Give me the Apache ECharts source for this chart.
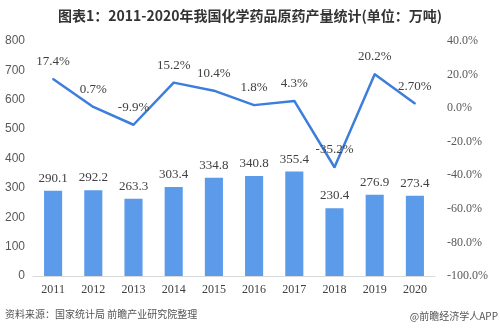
<!DOCTYPE html>
<html><head><meta charset="utf-8">
<script src="https://cdn.jsdelivr.net/npm/echarts@6/dist/echarts.min.js"></script>
<style>html,body{margin:0;padding:0;background:#fff}#c{width:500px;height:331px}</style>
</head><body><div id="c"></div>
<script>
const years = ['2011','2012','2013','2014','2015','2016','2017','2018','2019','2020'];
const output = [290.1, 292.2, 263.3, 303.4, 334.8, 340.8, 355.4, 230.4, 276.9, 273.4];
const growth = [17.4, 0.7, -9.9, 15.2, 10.4, 1.8, 4.3, -35.2, 20.2, 2.7];
const growthLabels = ['17.4%','0.7%','-9.9%','15.2%','10.4%','1.8%','4.3%','-35.2%','20.2%','2.70%'];

const serif = '"Liberation Serif","DejaVu Serif",serif';
const chart = echarts.init(document.getElementById('c'));
chart.setOption({
  animation: false,
  title: {
    text: '图表1：2011-2020年我国化学药品原药产量统计(单位：万吨)',
    left: 'center', top: 4,
    textStyle: {fontSize: 14, fontWeight: 'bold', color: '#333', fontFamily: '"Noto Sans CJK SC",sans-serif'}
  },
  graphic: [
    {type: 'text', left: 5, top: 309, style: {text: '资料来源：国家统计局 前瞻产业研究院整理', fill: '#555', font: '10px "Noto Sans CJK SC",sans-serif'}},
    {type: 'text', right: 2, top: 311, style: {text: '@前瞻经济学人APP', fill: '#555', font: '10px "Noto Sans CJK SC",sans-serif'}}
  ],
  grid: {left: 33, right: 65, top: 41, bottom: 55},
  xAxis: {
    type: 'category', data: years,
    axisLine: {lineStyle: {color: '#d9d9d9'}},
    axisTick: {show: false},
    axisLabel: {color: '#404040', fontSize: 12, fontFamily: serif, margin: 8}
  },
  yAxis: [
    {type: 'value', min: 0, max: 800, interval: 100,
     splitLine: {show: false}, axisLine: {show: false}, axisTick: {show: false},
     axisLabel: {color: '#595959', fontSize: 12, fontFamily: '"Liberation Sans",Arial,sans-serif', margin: 8}},
    {type: 'value', min: -100, max: 40, interval: 20,
     splitLine: {show: false}, axisLine: {show: false}, axisTick: {show: false},
     axisLabel: {color: '#595959', fontSize: 12, fontFamily: serif, margin: 12,
       formatter: v => v.toFixed(1) + '%'}}
  ],
  series: [
    {type: 'bar', data: output, barWidth: '45%', yAxisIndex: 0,
     itemStyle: {color: '#5b9bea'},
     label: {show: true, position: 'top', color: '#404040', fontSize: 13, fontFamily: serif, distance: 6}},
    {type: 'line', data: growth, yAxisIndex: 1, symbol: 'circle', symbolSize: 2, showSymbol: true,
     itemStyle: {color: '#3d7edc'},
     lineStyle: {color: '#3d7edc', width: 2.5},
     labelLayout: {hideOverlap: false},
     label: {show: true, position: 'top', distance: 10, color: '#404040', fontSize: 13, fontFamily: serif,
       formatter: p => growthLabels[p.dataIndex]}}
  ]
});
</script></body></html>
